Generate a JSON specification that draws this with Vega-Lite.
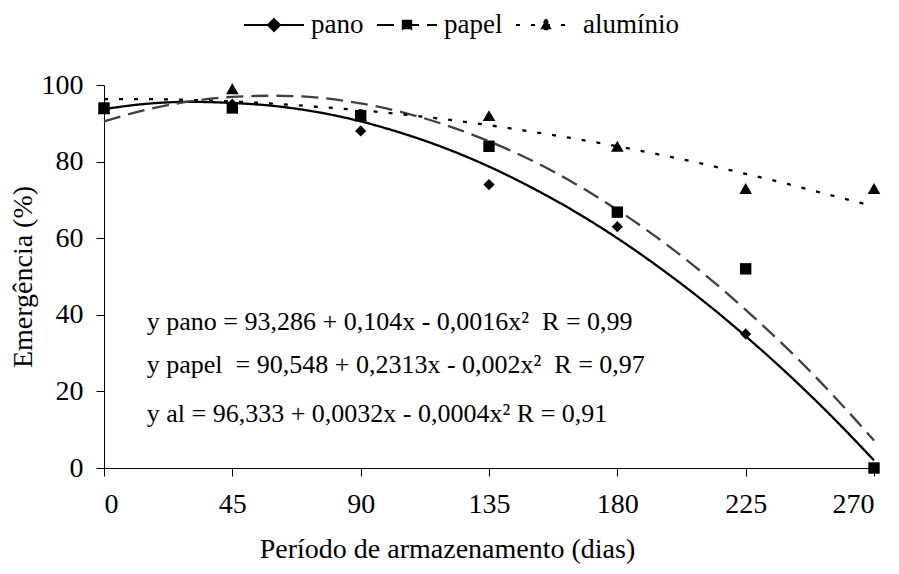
{
  "$schema": "https://vega.github.io/schema/vega-lite/v6.json",
  "width": 770,
  "height": 383,
  "autosize": "none",
  "padding": {"left": 104, "top": 85, "right": 25, "bottom": 106},
  "background": "white",
  "config": {
    "font": "Liberation Serif, serif",
    "view": {"stroke": null},
    "axis": {
      "grid": false,
      "domainColor": "black",
      "tickColor": "black",
      "labelColor": "black",
      "titleColor": "black",
      "labelFont": "Liberation Serif, serif",
      "titleFont": "Liberation Serif, serif",
      "labelFontSize": 28,
      "titleFontSize": 28,
      "titleFontWeight": "normal",
      "tickSize": 8,
      "domainWidth": 1,
      "tickWidth": 1
    }
  },
  "datasets": {
    "obs": [
      {"dias": 0, "serie": "pano", "valor": 94},
      {"dias": 45, "serie": "pano", "valor": 95},
      {"dias": 90, "serie": "pano", "valor": 88},
      {"dias": 135, "serie": "pano", "valor": 74},
      {"dias": 180, "serie": "pano", "valor": 63},
      {"dias": 225, "serie": "pano", "valor": 35},
      {"dias": 270, "serie": "pano", "valor": 0},
      {"dias": 0, "serie": "alumínio", "valor": 93.8},
      {"dias": 45, "serie": "alumínio", "valor": 99},
      {"dias": 90, "serie": "alumínio", "valor": 92},
      {"dias": 135, "serie": "alumínio", "valor": 92},
      {"dias": 180, "serie": "alumínio", "valor": 84},
      {"dias": 225, "serie": "alumínio", "valor": 73},
      {"dias": 270, "serie": "alumínio", "valor": 73},
      {"dias": 0, "serie": "papel", "valor": 94},
      {"dias": 45, "serie": "papel", "valor": 94},
      {"dias": 90, "serie": "papel", "valor": 92},
      {"dias": 135, "serie": "papel", "valor": 84},
      {"dias": 180, "serie": "papel", "valor": 66.8},
      {"dias": 225, "serie": "papel", "valor": 52},
      {"dias": 270, "serie": "papel", "valor": 0}
    ],
    "fit": [
      {"dias": 0, "serie": "pano", "valor": 93.7},
      {"dias": 15, "serie": "pano", "valor": 95.1},
      {"dias": 30, "serie": "pano", "valor": 95.6},
      {"dias": 45, "serie": "pano", "valor": 95.3},
      {"dias": 60, "serie": "pano", "valor": 94.5},
      {"dias": 75, "serie": "pano", "valor": 92.9},
      {"dias": 90, "serie": "pano", "valor": 90.5},
      {"dias": 105, "serie": "pano", "valor": 87.3},
      {"dias": 120, "serie": "pano", "valor": 83.4},
      {"dias": 135, "serie": "pano", "valor": 78.7},
      {"dias": 150, "serie": "pano", "valor": 73.2},
      {"dias": 165, "serie": "pano", "valor": 67.0},
      {"dias": 180, "serie": "pano", "valor": 60.0},
      {"dias": 195, "serie": "pano", "valor": 52.2},
      {"dias": 210, "serie": "pano", "valor": 43.7},
      {"dias": 225, "serie": "pano", "valor": 34.4},
      {"dias": 240, "serie": "pano", "valor": 24.4},
      {"dias": 255, "serie": "pano", "valor": 13.6},
      {"dias": 270, "serie": "pano", "valor": 2.0},
      {"dias": 0, "serie": "papel", "valor": 90.5},
      {"dias": 15, "serie": "papel", "valor": 93.6},
      {"dias": 30, "serie": "papel", "valor": 95.7},
      {"dias": 45, "serie": "papel", "valor": 96.9},
      {"dias": 60, "serie": "papel", "valor": 97.2},
      {"dias": 75, "serie": "papel", "valor": 96.7},
      {"dias": 90, "serie": "papel", "valor": 95.2},
      {"dias": 105, "serie": "papel", "valor": 92.8},
      {"dias": 120, "serie": "papel", "valor": 89.5},
      {"dias": 135, "serie": "papel", "valor": 85.3},
      {"dias": 150, "serie": "papel", "valor": 80.3},
      {"dias": 165, "serie": "papel", "valor": 74.3},
      {"dias": 180, "serie": "papel", "valor": 67.4},
      {"dias": 195, "serie": "papel", "valor": 59.6},
      {"dias": 210, "serie": "papel", "valor": 50.9},
      {"dias": 225, "serie": "papel", "valor": 41.3},
      {"dias": 240, "serie": "papel", "valor": 30.9},
      {"dias": 255, "serie": "papel", "valor": 19.5},
      {"dias": 270, "serie": "papel", "valor": 7.2},
      {"dias": 0, "serie": "alumínio", "valor": 96.3},
      {"dias": 15, "serie": "alumínio", "valor": 96.3},
      {"dias": 30, "serie": "alumínio", "valor": 96.1},
      {"dias": 45, "serie": "alumínio", "valor": 95.7},
      {"dias": 60, "serie": "alumínio", "valor": 95.1},
      {"dias": 75, "serie": "alumínio", "valor": 94.3},
      {"dias": 90, "serie": "alumínio", "valor": 93.4},
      {"dias": 105, "serie": "alumínio", "valor": 92.3},
      {"dias": 120, "serie": "alumínio", "valor": 91.0},
      {"dias": 135, "serie": "alumínio", "valor": 89.5},
      {"dias": 150, "serie": "alumínio", "valor": 87.8},
      {"dias": 165, "serie": "alumínio", "valor": 86.0},
      {"dias": 180, "serie": "alumínio", "valor": 84.0},
      {"dias": 195, "serie": "alumínio", "valor": 81.8},
      {"dias": 210, "serie": "alumínio", "valor": 79.4},
      {"dias": 225, "serie": "alumínio", "valor": 76.8},
      {"dias": 240, "serie": "alumínio", "valor": 74.1},
      {"dias": 255, "serie": "alumínio", "valor": 71.2},
      {"dias": 270, "serie": "alumínio", "valor": 68.3}
    ],
    "eq": [
      {"dias": 15, "valor": 38, "texto": "y pano = 93,286 + 0,104x - 0,0016x² \u00a0R = 0,99"},
      {"dias": 15, "valor": 27, "texto": "y papel \u00a0= 90,548 + 0,2313x - 0,002x² \u00a0R = 0,97"},
      {"dias": 15, "valor": 14, "texto": "y al = 96,333 + 0,0032x - 0,0004x² R = 0,91"}
    ]
  },
  "encoding": {
    "x": {
      "field": "dias",
      "type": "quantitative",
      "scale": {"domain": [0, 270], "nice": false, "zero": false},
      "axis": {
        "values": [0, 45, 90, 135, 180, 225, 270],
        "title": "Período de armazenamento (dias)",
        "labelPadding": 14,
        "titlePadding": 17,
        "titleX": 343,
        "titleAnchor": null,
        "titleAlign": "center"
      }
    },
    "y": {
      "field": "valor",
      "type": "quantitative",
      "scale": {"domain": [0, 100], "nice": false},
      "axis": {
        "values": [0, 20, 40, 60, 80, 100],
        "title": "Emergência (%)",
        "labelPadding": 13,
        "titlePadding": 4
      }
    }
  },
  "layer": [
    {
      "data": {"name": "fit"},
      "mark": {"type": "line", "interpolate": "monotone", "strokeWidth": 2.3},
      "encoding": {
        "strokeDash": {
          "field": "serie",
          "type": "nominal",
          "sort": ["pano", "papel", "alumínio"],
          "scale": {"domain": ["pano", "papel", "alumínio"], "range": [[1, 0], [17, 8], [4, 11]]},
          "legend": {
            "orient": "none",
            "legendX": 139,
            "legendY": -91,
            "direction": "horizontal",
            "title": null,
            "labelFont": "Liberation Serif, serif",
            "labelFontSize": 27,
            "labelColor": "black",
            "symbolSize": 3600,
            "symbolStrokeWidth": 2,
            "symbolStrokeColor": "black",
            "symbolFillColor": "black",
            "labelOffset": 6,
            "columnPadding": 9,
            "encode": {
              "symbols": {
                "update": {
                  "shape": {"signal": "datum.value === 'pano' ? 'M-1,0L1,0M0,-0.2L0.2,0L0,0.2L-0.2,0Z' : datum.value === 'papel' ? 'M-1,0L1,0M-0.14,-0.14L0.14,-0.14L0.14,0.14L-0.14,0.14Z' : 'M-1,0L1,0M0,-0.19L0.19,0.14L-0.19,0.14Z'"},
                  "strokeDash": {"signal": "datum.value === 'papel' ? [20, 20] : datum.value === 'alumínio' ? [6, 10] : [1, 0]"},
                  "fill": {"value": "black"},
                  "stroke": {"value": "black"},
                  "strokeWidth": {"value": 2}
                }
              }
            }
          }
        },
        "color": {
          "condition": {"test": "datum.serie === 'papel'", "value": "#404040"},
          "value": "black"
        }
      }
    },
    {
      "data": {"name": "obs"},
      "mark": {"type": "point", "filled": true, "opacity": 1, "color": "black", "strokeWidth": 0},
      "encoding": {
        "shape": {
          "condition": [
            {"test": "datum.serie === 'pano'", "value": "diamond"},
            {"test": "datum.serie === 'papel'", "value": "square"}
          ],
          "value": "triangle-up"
        },
        "size": {
          "condition": [
            {"test": "datum.serie === 'pano'", "value": 125},
            {"test": "datum.serie === 'papel'", "value": 130}
          ],
          "value": 160
        }
      }
    },
    {
      "data": {"name": "eq"},
      "mark": {"type": "text", "align": "left", "baseline": "middle", "font": "Liberation Serif, serif", "fontSize": 26, "color": "black"},
      "encoding": {
        "text": {"field": "texto", "type": "nominal"}
      }
    }
  ]
}
